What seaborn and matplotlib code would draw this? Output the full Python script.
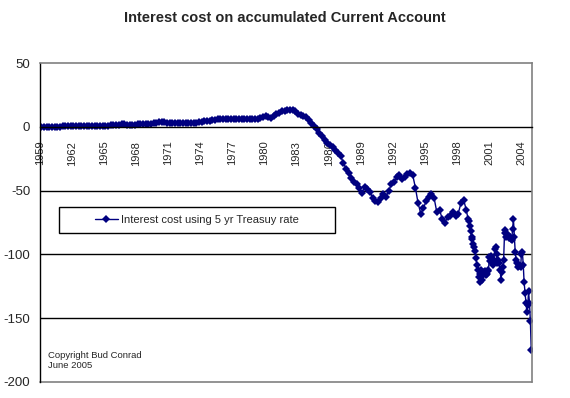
import numpy as np
import pandas as pd
import matplotlib
matplotlib.use("Agg")
import matplotlib.pyplot as plt
import seaborn as sns
from matplotlib.patches import Rectangle

# Quarterly values (billions), 1959Q1 .. 1998Q4
quarterly_values = [
    0, 0, 0, 0,              # 1959
    0, 0, 0, 0,              # 1960
    0.3, 0.6, 0.6, 0.6,      # 1961
    0.6, 0.6, 0.6, 0.6,      # 1962
    0.6, 0.6, 0.6, 0.6,      # 1963
    0.7, 0.7, 0.8, 0.8,      # 1964
    0.8, 1.0, 1.3, 1.4,      # 1965
    1.4, 1.6, 2.2, 2.3,      # 1966
    1.6, 1.6, 1.7, 1.8,      # 1967
    2.0, 2.2, 2.3, 2.4,      # 1968
    2.4, 2.5, 2.6, 3.0,      # 1969
    3.5, 4.0, 3.8, 3.0,      # 1970
    2.7, 2.8, 2.8, 2.9,      # 1971
    2.8, 2.8, 2.9, 2.9,      # 1972
    2.8, 2.9, 3.2, 3.6,      # 1973
    3.8, 4.2, 4.5, 4.6,      # 1974
    5.0, 5.5, 5.8, 6.0,      # 1975
    6.0, 6.0, 6.0, 6.0,      # 1976
    6.0, 5.9, 5.9, 6.0,      # 1977
    6.0, 6.0, 6.0, 6.0,      # 1978
    6.1, 6.3, 6.8, 7.5,      # 1979
    8.7, 8.0, 7.2, 8.5,      # 1980
    10.0, 11.0, 12.0, 12.5,  # 1981
    13.0, 13.0, 12.8, 12.0,  # 1982
    10.0, 9.0, 8.5, 7.5,     # 1983
    5.5, 3.0, 0.5, -2.0,     # 1984
    -5.0, -7.5, -10.0, -12.5,  # 1985
    -14.0, -16.0, -18.0, -20.5,  # 1986
    -23.0, -28.0, -33.0, -36.0,  # 1987
    -40.0, -43.0, -45.0, -48.0,  # 1988
    -52.0, -47.0, -49.0, -51.0,  # 1989
    -56.0, -58.0, -59.0, -56.0,  # 1990
    -53.0, -55.0, -50.0, -45.0,  # 1991
    -43.0, -39.0, -38.0, -41.0,  # 1992
    -39.0, -37.0, -36.0, -38.0,  # 1993
    -48.0, -60.0, -68.0, -64.0,  # 1994
    -58.0, -55.0, -53.0, -56.0,  # 1995
    -67.0, -65.0, -72.0, -75.0,  # 1996
    -71.0, -70.0, -67.0, -70.0,  # 1997
    -68.0, -60.0, -57.0, -65.0,  # 1998
]
# Monthly values, Jan 1999 .. Dec 2004
monthly_values = [
    -72, -74, -78, -82, -86, -88, -92, -94, -97, -103, -108, -112,      # 1999
    -118, -122, -115, -112, -120, -116, -114, -113, -116, -115, -113, -112,  # 2000
    -102, -105, -101, -106, -108, -104, -96, -94, -100, -107, -104, -107,    # 2001
    -112, -120, -114, -110, -104, -83, -81, -86, -84, -85, -87, -86,     # 2002
    -88, -89, -80, -72, -86, -98, -104, -107, -110, -108, -109, -110,    # 2003
    -100, -98, -108, -122, -130, -138, -145, -140, -129, -138, -152, -175,  # 2004
]
year_ticks = list(range(1959, 2005, 3))
tick_labels = [str(y) for y in year_ticks]
series_name = "Interest cost using 5 yr Treasuy rate"

pos_q = 1959 + (np.arange(len(quarterly_values)) + 0.5) / 4.0
pos_m = 1999 + (np.arange(len(monthly_values)) + 0.5) / 12.0
df = pd.DataFrame({"year": np.concatenate([pos_q, pos_m]),
                   "value": list(quarterly_values) + list(monthly_values),
                   "series": series_name})

sns.set_style("white")
plt.rcParams["font.family"] = ["Liberation Sans", "DejaVu Sans"]

fig = plt.figure(figsize=(5.70, 3.98), dpi=100)
ax = fig.add_axes([40 / 570, 1 - 382 / 398, (531.7 - 40) / 570, (382 - 63) / 398])

navy = "#000080"
sns.lineplot(data=df, x="year", y="value", hue="series", palette=[navy],
             marker="D", markersize=3.8, markeredgewidth=0, linewidth=1.0,
             ax=ax, legend=True)

ax.set_xlim(1959, 2005)
ax.set_ylim(-200, 50)

for g in (-50, -100, -150):
    ax.axhline(g, color="black", linewidth=1.0, zorder=0)
ax.axhline(-200, color="#808080", linewidth=1.2, clip_on=False, zorder=0)

ax.spines["bottom"].set_position(("data", 0))
ax.spines["bottom"].set_color("black")
ax.spines["bottom"].set_linewidth(1.0)
ax.spines["left"].set_color("black")
ax.spines["left"].set_linewidth(1.0)
ax.spines["top"].set_color("#808080")
ax.spines["right"].set_color("#808080")
ax.spines["top"].set_linewidth(1.2)
ax.spines["right"].set_linewidth(1.2)

ax.set_xticks(year_ticks)
ax.set_xticklabels(tick_labels, rotation=90, fontsize=8)
ax.set_yticks([50, 0, -50, -100, -150, -200])
ax.set_yticklabels(["50", "0", "-50", "-100", "-150", "-200"], fontsize=9.5)
ax.tick_params(axis="x", direction="out", length=4, width=1, pad=6, color="black")
ax.tick_params(axis="y", direction="out", length=4, width=1, pad=3, color="black")
ax.set_xlabel("")
ax.set_ylabel("")

# legend in a box
handles, labels = ax.get_legend_handles_labels()
ax.legend(handles, labels, loc="center", bbox_to_anchor=(197 / 570, 1 - 220 / 398),
          bbox_transform=fig.transFigure, frameon=False, fontsize=8,
          handlelength=2.0, handletextpad=0.3)
fig.patches.append(Rectangle((59 / 570, 1 - 233 / 398), 276 / 570, 26 / 398,
                             transform=fig.transFigure, fill=False,
                             edgecolor="black", linewidth=1.0))

fig.text(0.5, 1 - 18 / 398, "Interest cost on accumulated Current Account",
         ha="center", va="center", fontsize=10.5, fontweight="bold")
ax.text(48 / 570, 1 - 351 / 398, "Copyright Bud Conrad\nJune 2005",
        transform=fig.transFigure, ha="left", va="top", fontsize=6.8,
        linespacing=1.1)

fig.savefig("out.png", dpi=100)
